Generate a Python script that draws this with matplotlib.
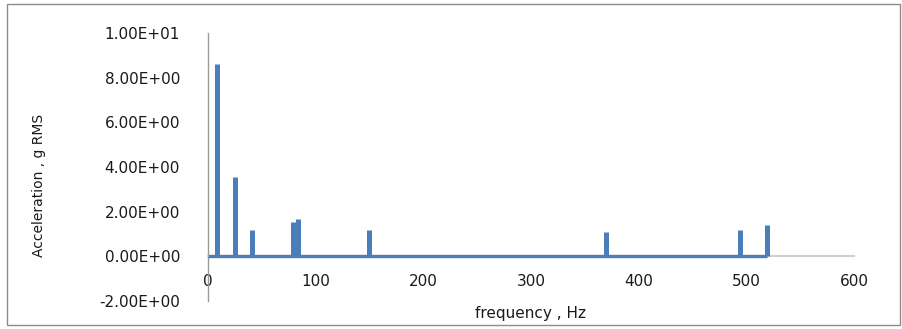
import matplotlib
matplotlib.use("Agg")
import matplotlib.pyplot as plt
from matplotlib.patches import Rectangle

# Data
peak_freqs = [9.0, 25.3, 41.1, 79.5, 84.1, 150.0, 369.8, 494.5, 519.0]   # Hz
peak_amps = [8.6, 3.55, 1.2, 1.53, 1.65, 1.2, 1.1, 1.17, 1.41]         # g RMS
y_ticks = [-2, 0, 2, 4, 6, 8, 10]
x_ticks = [0, 100, 200, 300, 400, 500, 600]

W, H = 903, 329
fig = plt.figure(figsize=(W / 100, H / 100), dpi=100)
fig.patch.set_facecolor("white")

left, right = 207.7 / W, 854 / W
bottom, top = (H - 301) / H, (H - 33) / H
ax = fig.add_axes([left, bottom, right - left, top - bottom])

blue = "#4A7EBB"
# baseline of the spectrum (from 0 Hz up to the last peak)
ax.plot([0, peak_freqs[-1]], [0, 0], color=blue, lw=2.4, solid_capstyle="butt",
        zorder=3, clip_on=False)
# spikes
ax.vlines(peak_freqs, 0, peak_amps, colors=blue, lw=3.6, zorder=3,
          capstyle="butt")

ax.set_xlim(0, 600)
ax.set_ylim(-2, 10)
ax.set_xticks(x_ticks)
ax.set_yticks(y_ticks)
ax.set_yticklabels([("%.2E" % v) for v in y_ticks])

for s in ["top", "right"]:
    ax.spines[s].set_visible(False)
ax.spines["bottom"].set_position(("data", 0))
ax.spines["bottom"].set_color("#d0d0d0")
ax.spines["bottom"].set_linewidth(1.5)
ax.spines["left"].set_color("#9a9a9a")
ax.spines["left"].set_linewidth(1.0)

ax.tick_params(axis="both", length=0, labelsize=11, colors="#1a1a1a")
ax.tick_params(axis="y", pad=20)
ax.tick_params(axis="x", pad=13)
for lab in ax.get_xticklabels() + ax.get_yticklabels():
    lab.set_family("DejaVu Sans")

ax.set_xlabel("frequency , Hz", fontsize=11, color="#1a1a1a", family="DejaVu Sans")
ax.xaxis.set_label_coords(0.5, -0.045)
ax.xaxis.label.set_verticalalignment("center")

fig.text(39 / W, 1 - 185 / H, "Acceleration , g RMS", rotation=90,
         ha="center", va="center", fontsize=10, color="#1a1a1a",
         family=["Liberation Sans Narrow", "DejaVu Sans"])

# outer frame
fig.patches.append(Rectangle((7 / W, 4 / H), (900 - 7) / W, (325 - 4) / H,
                             transform=fig.transFigure, fill=False,
                             edgecolor="#8c8c8c", lw=1.0))

fig.savefig("out.png", dpi=100)
